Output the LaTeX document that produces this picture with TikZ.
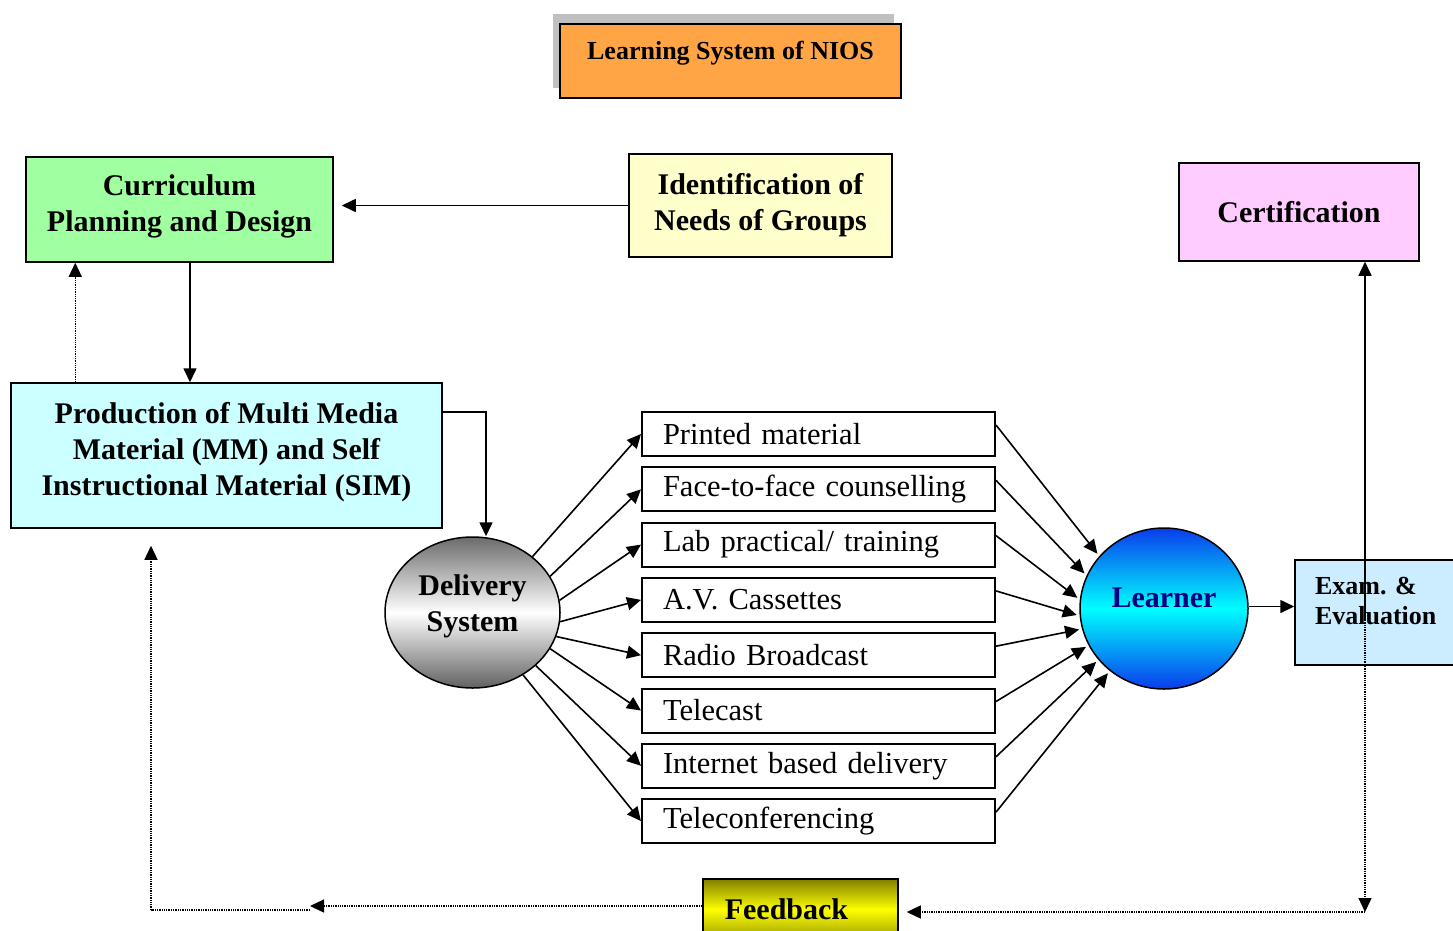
\documentclass[tikz,border=0pt]{standalone}
\usepackage{fontspec}
\setmainfont{Liberation Serif}
\usepackage{tikz}
\usetikzlibrary{arrows.meta,shapes.geometric,shadows,calc}
\definecolor{naranja}{RGB}{255,165,70}
\definecolor{verdeClaro}{RGB}{160,255,160}
\definecolor{amarilloClaro}{RGB}{255,255,204}
\definecolor{rosa}{RGB}{255,204,255}
\definecolor{cianClaro}{RGB}{204,255,255}
\definecolor{azulClaro}{RGB}{204,236,255}
\definecolor{sombra}{RGB}{192,192,192}
\definecolor{marino}{RGB}{0,0,128}
\definecolor{azulFuerte}{RGB}{10,60,235}
\definecolor{oliva}{RGB}{128,128,0}
\newcommand{\subir}[3][c]{\raisebox{#2}[\height][\depth]{\begin{tabular}{@{}#1@{}}#3\end{tabular}}}
\tikzstyle{edge}  =[->, >={Triangle[length=14pt,width=13pt]},
                    line width=1.6pt]
\tikzstyle{dedge} =[->, >={Triangle[length=14pt,width=13pt]},
                    densely dotted, line width=1.3pt]
\tikzstyle{box}   =[draw, line width=1.5pt, inner sep=0pt, align=center,
                    font=\bfseries\fontsize{30}{36}\selectfont]
\tikzstyle{mbox}  =[draw, line width=2pt, minimum width=353pt,
                    minimum height=44pt, text width=311pt, inner xsep=21pt,
                    inner ysep=0pt, align=left,
                    font=\fontsize{30.5}{36}\selectfont]
\tikzstyle{blob}  =[ellipse, draw, line width=1.5pt, inner sep=0pt,
                    align=center, font=\bfseries\fontsize{30}{36}\selectfont]

\begin{document}
\frenchspacing
\begin{tikzpicture}[x=1pt,y=-1pt]
    \useasboundingbox (0,0) rectangle (1453,930);

    % title
    \node[box, fill=naranja, minimum width=341pt, minimum height=74pt,
        text height=19pt, text depth=23pt, font=\bfseries\fontsize{26}{30}\selectfont,
        general shadow={fill=sombra, shadow xshift=-7pt, shadow yshift=10pt}]
        (title) at (730.5,61) {Learning System of NIOS};

    % upper boxes
    \node[box, fill=verdeClaro, minimum width=307pt, minimum height=105pt]
        (cur) at (179.5,209.5) {\subir{3pt}{Curriculum\\Planning and Design}};
    \node[box, fill=amarilloClaro, minimum width=263pt, minimum height=103pt]
        (ident) at (760.5,205.5) {Identification of\\Needs of Groups};
    \node[box, fill=rosa, minimum width=240pt, minimum height=98pt]
        (cert) at (1299,212) {Certification};
    \node[box, fill=cianClaro, minimum width=431pt, minimum height=145pt]
        (prod) at (226.5,455.5)
        {\subir{3pt}{Production of Multi Media\\Material (MM) and Self\\Instructional Material (SIM)}};

    % delivery and learner
    \node[blob, minimum width=175pt, minimum height=151pt,
        top color=black!58, bottom color=black!62, middle color=white]
        (del) at (472.5,612.5) {\subir{6pt}{Delivery\\System}};
    \node[blob, minimum width=168pt, minimum height=161pt, text=marino,
        top color=azulFuerte, bottom color=azulFuerte, middle color=cyan]
        (lrn) at (1164,608.5) {\subir{8pt}{Learner}};
    \node[box, fill=azulClaro, minimum width=175pt, minimum height=105pt,
        text width=135pt, inner xsep=20pt, align=left,
        font=\bfseries\fontsize{26}{30}\selectfont]
        (exam) at (1382.5,612.5) {\subir[l]{9pt}{Exam. \&\\Evaluation}};
    \node[box, minimum width=195pt, minimum height=61pt,
        top color=oliva, bottom color=oliva!80!yellow, middle color=yellow]
        (fb) at (800.5,909.5) {Feedback\hspace*{28pt}};

    % media
    \foreach \t [count=\i] in {Printed material, Face-to-face counselling,
        Lab practical/ training, A.V. Cassettes, Radio Broadcast, Telecast,
        Internet based delivery, Teleconferencing}
        \node[mbox] (m\i) at (818.5,{434+55.3*(\i-1)}) {\t};

    \foreach \i/\a/\b in
        {1/43.6/141,2/25/157,3/8/174.5,4/-6/185,
         5/-16/194,6/-25.5/206,7/-40/218,8/-51/229}
    {
        \draw [edge] (del.\a) -- (m\i.west);
        \draw [edge, shorten >=3pt] ([yshift=9pt]m\i.east) -- (lrn.\b);
    }

    % flow between boxes
    \draw [edge, shorten >=8pt] (ident.west) -- (ident.west -| cur.east);
    \draw [edge] ([xshift=10.5pt]cur.south) -- ([xshift=10.5pt]cur.south |- prod.north);
    \draw [dedge] ([xshift=65pt]prod.north west) -- ([xshift=65pt]prod.north west |- cur.south);
    \draw [edge] ([yshift=-30pt]prod.north east) -| ([xshift=13.5pt]del.north);
    \draw [edge] ([yshift=2pt]lrn.east) -- ([yshift=2pt]lrn.east -| exam.west);

    % exam, certification and feedback
    \coordinate (split) at (1365,620);
    \coordinate (fbr) at (1365,912);
    \coordinate (fbm) at (310,906);
    \coordinate (fbl) at (151,910);
    \draw [edge] (split) -- (split |- cert.south);
    \draw [dedge] (split) -- (fbr);
    \draw [dedge, shorten >=8pt] (fbr) -- (fbr -| fb.east);
    \draw [dedge] ([yshift=3.5pt]fb.west) -- (fbm);
    \draw [densely dotted, line width=1.3pt] (fbm |- fbl) -- (fbl);
    \draw [dedge, shorten >=17pt] (fbl) -- (fbl |- prod.south);

\end{tikzpicture}
\end{document}
